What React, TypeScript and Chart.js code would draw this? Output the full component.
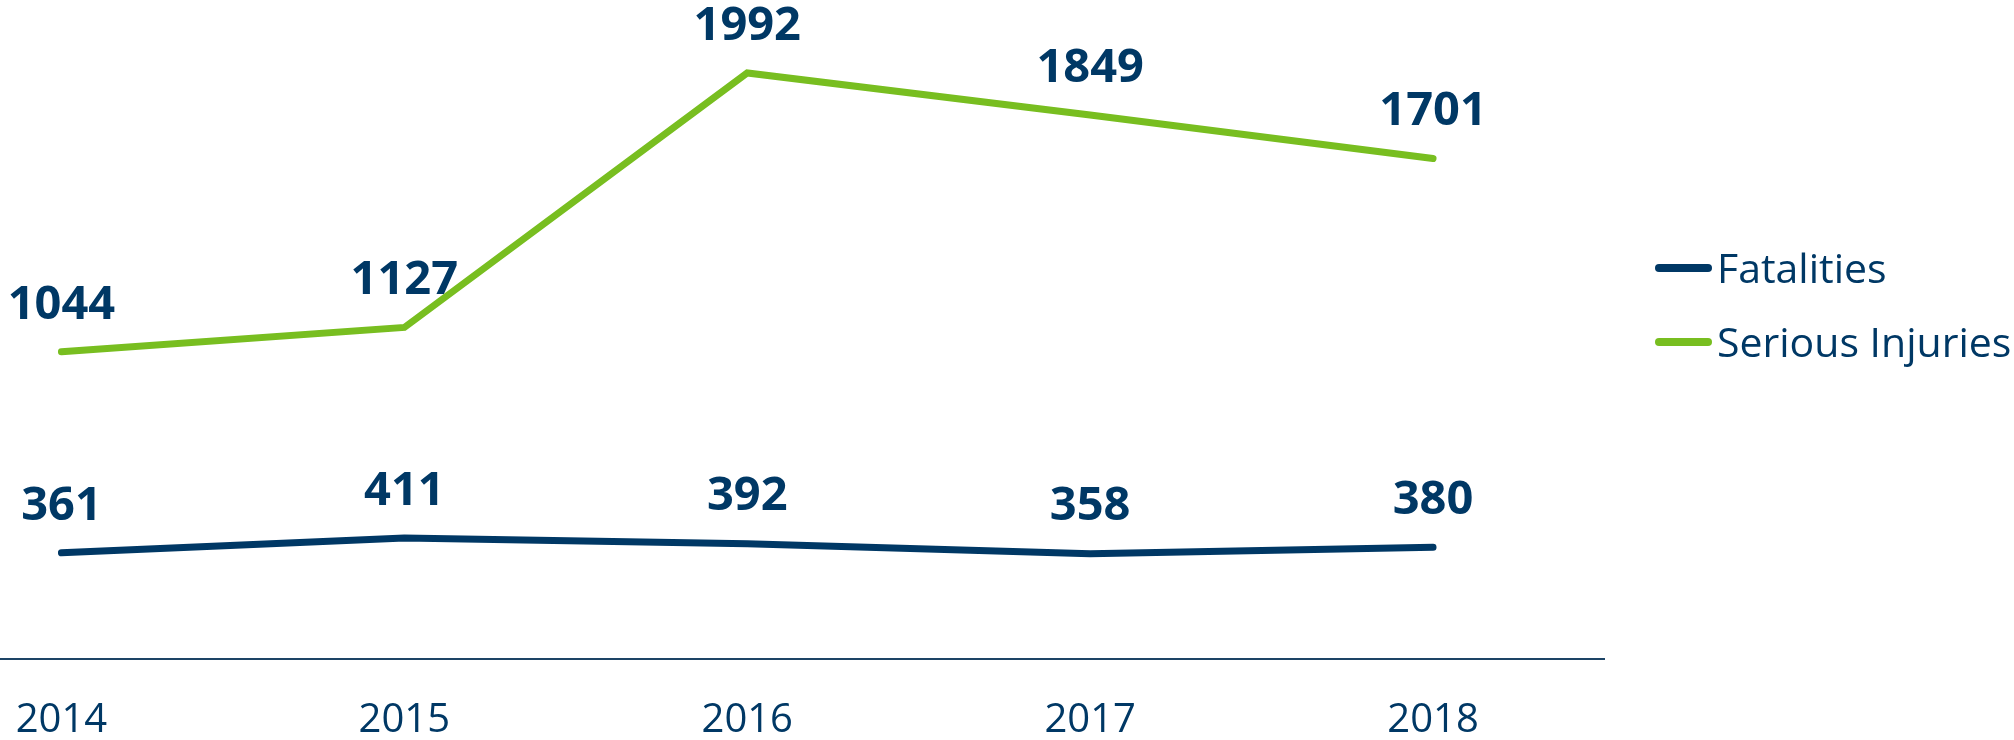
import React, { useEffect, useRef } from 'react';
import { Chart, registerables } from 'chart.js';

Chart.register(...registerables);

const years = ['2014', '2015', '2016', '2017', '2018'];
const fatalities = [361, 411, 392, 358, 380];
const seriousInjuries = [1044, 1127, 1992, 1849, 1701];
const seriesNames = ['Fatalities', 'Serious Injuries'];
const yMin = 0;
const yMax = 2240;

const NAVY = '#003865';
const GREEN = '#78BE20';
const AXIS = '#1d4466';
const SHIFT = 120; // canvas is shifted left so that the plot starts off-page (cropped original)
const CANVAS_H = 783;
const FONT = '"Open Sans", "Noto Sans", sans-serif';

const valueLabels = {
  id: 'valueLabels',
  afterDatasetsDraw(chart: any) {
    const ctx = chart.ctx;
    ctx.save();
    const size = 47;
    ctx.font = `bold ${size}px ${FONT}`;
    ctx.fillStyle = NAVY;
    ctx.textAlign = 'center';
    ctx.textBaseline = 'alphabetic';
    chart.data.datasets.forEach((ds: any, di: number) => {
      const meta = chart.getDatasetMeta(di);
      meta.data.forEach((pt: any, i: number) => {
        const cy = pt.y - 50;
        ctx.fillText(String(ds.data[i]), pt.x, cy + size * 0.714 / 2);
      });
    });
    ctx.restore();
  },
};

const sideLegend = {
  id: 'sideLegend',
  afterDraw(chart: any) {
    const ctx = chart.ctx;
    ctx.save();
    const size = 41;
    ctx.font = `${size}px ${FONT}`;
    ctx.textAlign = 'left';
    ctx.textBaseline = 'alphabetic';
    const rows = [268, 342];
    chart.data.datasets.forEach((ds: any, i: number) => {
      const y = rows[i];
      ctx.strokeStyle = ds.borderColor;
      ctx.lineWidth = 8;
      ctx.lineCap = 'round';
      ctx.beginPath();
      ctx.moveTo(1659 + SHIFT, y);
      ctx.lineTo(1708 + SHIFT, y);
      ctx.stroke();
      ctx.fillStyle = NAVY;
      ctx.fillText(ds.label, 1717 + SHIFT, y + size * 0.714 / 2);
    });
    ctx.restore();
  },
};

export default function App() {
  const ref = useRef<HTMLCanvasElement | null>(null);

  useEffect(() => {
    if (!ref.current) return;
    const chart = new Chart(ref.current, {
      type: 'line',
      data: {
        labels: years,
        datasets: [
          {
            label: seriesNames[0],
            data: fatalities,
            borderColor: NAVY,
            backgroundColor: NAVY,
            borderWidth: 7,
            borderCapStyle: 'round',
            pointRadius: 0,
            tension: 0,
          },
          {
            label: seriesNames[1],
            data: seriousInjuries,
            borderColor: GREEN,
            backgroundColor: GREEN,
            borderWidth: 7,
            borderCapStyle: 'round',
            pointRadius: 0,
            tension: 0,
          },
        ],
      },
      options: {
        responsive: false,
        animation: false,
        devicePixelRatio: 1,
        layout: { padding: { left: 10, right: 409.5, top: 0, bottom: 0 } },
        plugins: {
          legend: { display: false },
          tooltip: { enabled: false },
        },
        scales: {
          x: {
            type: 'category',
            offset: true,
            grid: { display: false, drawTicks: false },
            border: { display: true, color: AXIS, width: 2 },
            ticks: {
              color: NAVY,
              padding: 38,
              maxRotation: 0,
              autoSkip: false,
              font: { family: FONT, size: 40, lineHeight: 1.2 },
            },
          },
          y: {
            display: false,
            min: yMin,
            max: yMax,
          },
        },
      },
      plugins: [valueLabels, sideLegend],
    });
    return () => chart.destroy();
  }, []);

  return (
    <canvas
      ref={ref}
      width={2014 + SHIFT}
      height={CANVAS_H}
      style={{ position: 'fixed', left: -SHIFT, top: 0, width: 2014 + SHIFT, height: CANVAS_H, background: '#fff' }}
    />
  );
}
